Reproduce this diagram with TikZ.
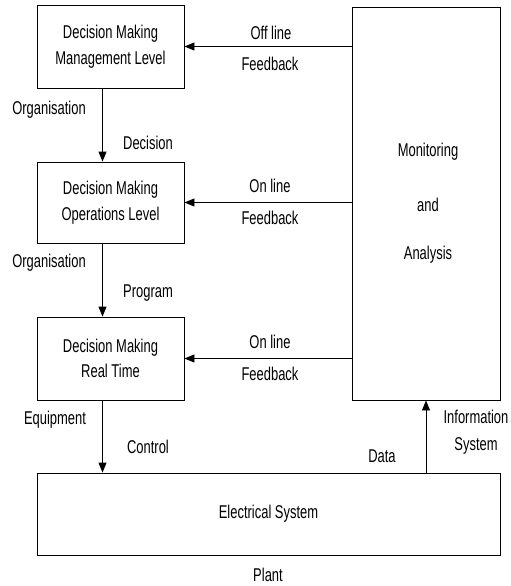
\documentclass[tikz,border=0pt]{standalone}
\usepackage{fontspec}
\setmainfont[FakeStretch=0.70]{Liberation Sans}
\usetikzlibrary{arrows.meta}
\begin{document}
\begin{tikzpicture}[x=1pt,y=-1pt,
  box/.style={draw,line width=0.9pt,inner sep=0pt,align=center,font=\fontsize{18.5}{25.5}\selectfont},
  lbl/.style={inner sep=0pt,align=center,font=\fontsize{18.5}{27}\selectfont},
  arr/.style={line width=0.9pt,-{Triangle[length=10pt,width=8pt]}}]
\useasboundingbox (0,0) rectangle (511,586);
\node[box,minimum width=147pt,minimum height=83pt] (b1) at (110.5,46.5) {Decision Making\\Management Level};
\node[box,minimum width=147pt,minimum height=81pt] (b2) at (110.5,202.5) {Decision Making\\Operations Level};
\node[box,minimum width=147pt,minimum height=83pt] (b3) at (110.5,358.5) {Decision Making\\Real Time};
\node[box,minimum width=148pt,minimum height=393pt] (mon) at (426,203.5) {};
\node[box,minimum width=463pt,minimum height=82pt] (el) at (268.5,514) {Electrical System};
\node[lbl] (m1) at (428,152) {Monitoring};
\node[lbl] (m2) at (428,205) {and};
\node[lbl] (m3) at (428,255) {Analysis};
\draw[arr] ([xshift=-8pt]b1.south) -- ([xshift=-8pt]b2.north);
\draw[arr] ([xshift=-8pt]b2.south) -- ([xshift=-8pt]b3.north);
\draw[arr] ([xshift=-8pt]b3.south) -- ([xshift=-8pt]b3.south |- el.north);
\draw[arr] (el.north -| mon.south) -- (mon.south);
\draw[arr] (mon.west |- b1.east) -- (b1.east);
\draw[arr] (mon.west |- b2.east) -- (b2.east);
\draw[arr] (mon.west |- b3.east) -- (b3.east);
\node[lbl] (t1) at (271,33) {Off line};
\node[lbl] (t2) at (270,64) {Feedback};
\node[lbl] (t3) at (270,186) {On line};
\node[lbl] (t4) at (270,218) {Feedback};
\node[lbl] (t5) at (270,342) {On line};
\node[lbl] (t6) at (270,374) {Feedback};
\node[lbl] (o1) at (49,110) {Organisation};
\node[lbl] (d1) at (148,143) {Decision};
\node[lbl] (o2) at (49,263) {Organisation};
\node[lbl] (p1) at (148,293) {Program};
\node[lbl] (e1) at (55,420) {Equipment};
\node[lbl] (c1) at (148,447) {Control};
\node[lbl] (da) at (382,456) {Data};
\node[lbl] (i1) at (476,432) {Information\\System};
\node[lbl] (pl) at (268,575) {Plant};
\end{tikzpicture}
\end{document}
